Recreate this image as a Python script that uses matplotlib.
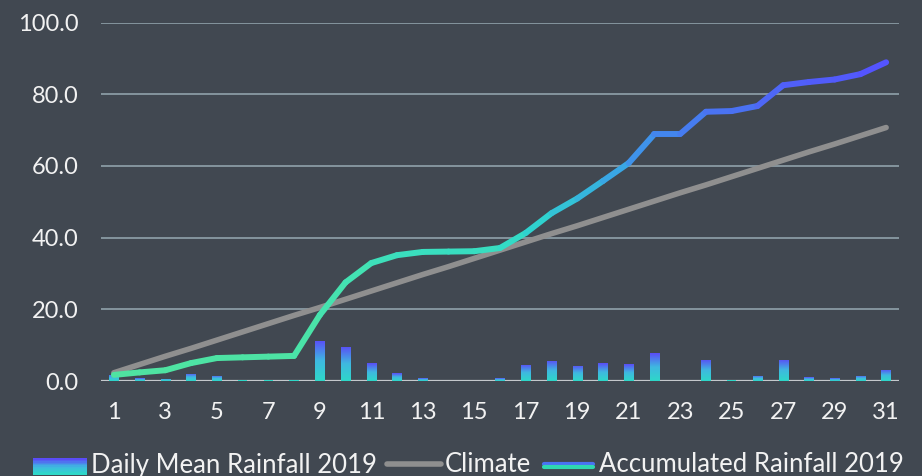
import numpy as np
import matplotlib
matplotlib.use("Agg")
import matplotlib.pyplot as plt
from matplotlib.collections import LineCollection
from matplotlib.colors import LinearSegmentedColormap
from matplotlib.legend_handler import HandlerBase
from matplotlib.patches import Rectangle
from matplotlib.lines import Line2D

plt.rcParams["font.family"] = ["Lato", "DejaVu Sans"]

# ── Data ────────────────────────────────────────────────────────────────────
days = list(range(1, 32))
daily_rain = [1.7, 0.8, 0.6, 2.0, 1.4, 0.4, 0.4, 0.4, 11.2, 9.5,
              5.0, 2.2, 0.8, 0.0, 0.0, 0.8, 4.5, 5.6, 4.2, 5.0,
              4.7, 7.8, 0.0, 5.9, 0.4, 1.4, 5.9, 1.1, 0.8, 1.4, 3.1]
climate = [2.3, 4.6, 6.9, 9.1, 11.4, 13.7, 16.0, 18.3, 20.5, 22.8,
           25.1, 27.4, 29.7, 31.9, 34.2, 36.5, 38.8, 41.1, 43.3, 45.6,
           47.9, 50.2, 52.5, 54.7, 57.0, 59.3, 61.6, 63.9, 66.1, 68.4, 70.7]
accumulated = [1.7, 2.4, 3.0, 5.0, 6.4, 6.6, 6.8, 7.0, 18.4, 27.5,
               32.9, 35.1, 36.0, 36.1, 36.2, 37.1, 41.3, 46.8, 50.9, 55.8,
               60.8, 68.9, 68.9, 75.1, 75.3, 76.7, 82.5, 83.4, 84.1, 85.6, 88.9]
xtick_days = days[::2]
yticks = [0, 20, 40, 60, 80, 100]

BG = "#414851"
TEXT = "#f2f2f2"
GRID = "#8a9aa3"
BASE = "#c4c8cc"
GRAY = "#8f8f8f"
BLUE = "#5a4cf7"
TEAL = "#2ed8c8"

bar_cmap = LinearSegmentedColormap.from_list("bar", [TEAL, "#3fb8e0", BLUE])
line_cmap = LinearSegmentedColormap.from_list(
    "acc", [(0.0, "#50e3a0"), (0.35, "#42e2b4"), (0.47, "#2ed8cc"),
            (0.68, "#3aa0e8"), (0.85, "#4a72f2"), (1.0, "#5550ff")])

fig = plt.figure(figsize=(9.22, 4.76), dpi=100, facecolor=BG)
ax = fig.add_axes([101 / 922, 1 - 381 / 476, 798 / 922, 358.5 / 476])
ax.set_facecolor(BG)

# ── Bars with vertical gradient ────────────────────────────────────────────
grad = np.linspace(0, 1, 256).reshape(-1, 1)
bars = ax.bar(days, daily_rain, width=0.36, color=TEAL, zorder=2)
for b in bars:
    h = b.get_height()
    if h < 0.5:
        continue
    x0 = b.get_x()
    im = ax.imshow(grad, extent=(x0, x0 + b.get_width(), 0, h), origin="lower",
                   aspect="auto", cmap=bar_cmap, zorder=2)
    im.set_clip_path(b)

# ── Lines ───────────────────────────────────────────────────────────────────
ax.plot(days, climate, color=GRAY, lw=4.0, solid_capstyle="round",
        solid_joinstyle="round", zorder=3)

pts = np.column_stack([days, accumulated])
segs = np.stack([pts[:-1], pts[1:]], axis=1)
mid = (np.array(accumulated[:-1]) + np.array(accumulated[1:])) / 2
lc = LineCollection(segs, colors=line_cmap(mid / max(accumulated)), lw=4.3,
                    capstyle="round", joinstyle="round", zorder=4)
ax.add_collection(lc)

# ── Axes styling ────────────────────────────────────────────────────────────
ax.set_xlim(0.5, 31.5)
ax.set_ylim(0, 100)
ax.set_yticks(yticks)
ax.set_yticklabels([f"{v:.1f}" for v in yticks])
ax.set_xticks(xtick_days)
ax.set_xticklabels([str(d) for d in xtick_days])
ax.tick_params(length=0, colors=TEXT, labelsize=17)
ax.tick_params(axis="y", pad=16)
ax.tick_params(axis="x", pad=15)
for y in yticks[1:]:
    ax.axhline(y, color=GRID, lw=1.3, zorder=1)
ax.axhline(0, color=BASE, lw=1.6, zorder=1.5)
for s in ax.spines.values():
    s.set_visible(False)


# ── Legend with gradient handles ────────────────────────────────────────────
class GradBarHandler(HandlerBase):
    def create_artists(self, legend, orig, xd, yd, w, h, fs, trans):
        n = 12
        out = []
        for i in range(n):
            c = bar_cmap(i / (n - 1))
            r = Rectangle((xd, yd + h * i / n - 1), w, h / n + 0.6,
                          facecolor=c, edgecolor="none", transform=trans)
            out.append(r)
        return out


class GradLineHandler(HandlerBase):
    def create_artists(self, legend, orig, xd, yd, w, h, fs, trans):
        y = yd + h / 2
        top = Line2D([xd + 2, xd + w - 2], [y + 1.2, y + 1.2], color="#4a72f2",
                     lw=3.0, solid_capstyle="round", transform=trans)
        bot = Line2D([xd + 2, xd + w - 2], [y - 1.2, y - 1.2], color="#2ed8b0",
                     lw=3.0, solid_capstyle="round", transform=trans)
        return [top, bot]


h_bar = Rectangle((0, 0), 1, 1)
h_clim = Line2D([], [], color=GRAY, lw=4.0, solid_capstyle="round")
h_acc = Line2D([], [])
fig.legend([h_bar, h_clim, h_acc],
           ["Daily Mean Rainfall 2019", "Climate", "Accumulated Rainfall 2019"],
           handler_map={h_bar: GradBarHandler(), h_acc: GradLineHandler()},
           loc="center left", bbox_to_anchor=(33 / 922, 1 - 465 / 476),
           ncol=3, frameon=False, fontsize=18.5, labelcolor=TEXT,
           handlelength=2.1, handleheight=0.6, handletextpad=0.15,
           columnspacing=0.4, borderpad=0, borderaxespad=0)

fig.savefig("out.png", dpi=100, facecolor=BG)
